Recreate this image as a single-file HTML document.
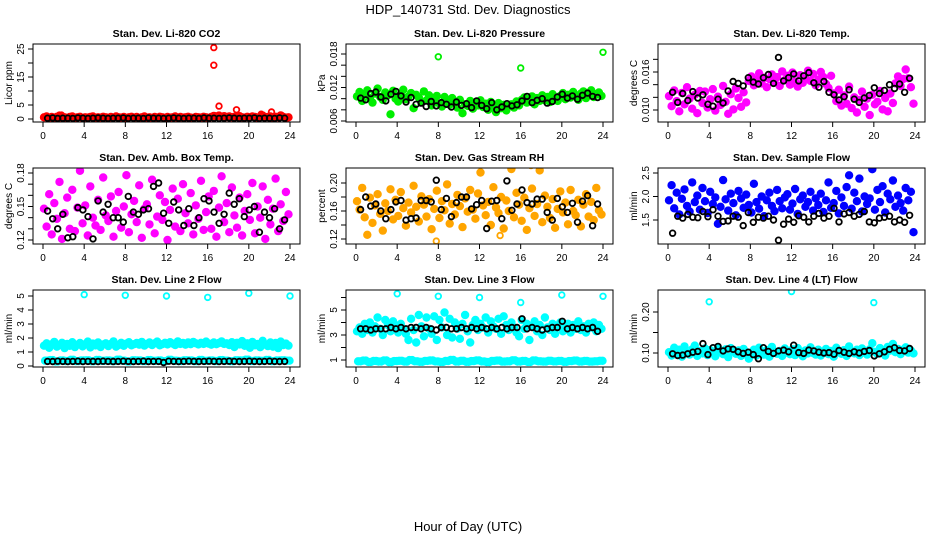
<!DOCTYPE html>
<html><head><meta charset="utf-8"><style>
html,body{margin:0;padding:0;background:#fff;width:936px;height:540px;overflow:hidden}
svg{display:block;font-family:"Liberation Sans",sans-serif}
</style></head><body>
<svg id="chart" width="936" height="540" viewBox="0 0 936 540" xmlns="http://www.w3.org/2000/svg">
<text x="468" y="14" text-anchor="middle" font-size="13">HDP_140731  Std. Dev. Diagnostics</text>
<text x="468" y="531" text-anchor="middle" font-size="13">Hour of Day (UTC)</text>
</svg>
<script>
// ---------- data ----------
const xTicks=[0,4,8,12,16,20,24];
const co2Vals=[0.6,0.9,0.4,0.7,0.5,0.8,1.2,0.5,0.6,0.4,0.7,0.9,0.5,0.6,0.8,0.4,0.6,0.5,0.7,0.9,0.4,0.6,0.5,0.8,0.6,0.4,0.7,0.5,0.9,0.6,0.5,0.7,0.4,0.6,0.8,0.5,0.7,0.4,0.6,0.9,0.5,0.6,0.4,0.7,0.5,0.8,0.6,0.4,0.7,0.5,0.6,0.9,0.4,0.7,0.5,0.6,0.8,0.5,0.4,0.7,0.6,0.5,0.8,0.6,0.4,0.7,1.1,0.9,1.2,0.8,1.0,0.7,0.9,0.6,0.8,0.7,1.0,0.6,0.5,0.8,0.6,0.9,0.7,0.5,0.8,1.2,0.6,0.7,0.9,0.5,0.8,0.6,1.3,0.7,0.5,0.6];
const co2OutX=[16.6,16.6,17.1,18.8,21.2,22.2,1.8,23.2];
const co2OutY=[25.5,19.2,4.6,3.3,1.7,2.5,1.4,1.2];
const co2Black=[0.3,0.4,0.2,0.3,0.3,0.2,0.4,0.3,0.2,0.3,0.4,0.3,0.2,0.3,0.3,0.4,0.2,0.3,0.3,0.2,0.4,0.3,0.3,0.2,0.3,0.4,0.3,0.2,0.3,0.3,0.2,0.4,0.3,0.3,0.2,0.3,0.4,0.3,0.2,0.3,0.3,0.4,0.2,0.3,0.3,0.2,0.4,0.3];

const presVals=[10.4,11.2,9.6,10.8,11.5,10.1,9.3,10.9,11.8,10.3,9.8,11.1,10.6,7.2,11.4,10.0,9.5,10.8,11.6,9.9,10.4,11.0,8.3,10.7,10.2,9.4,11.3,9.7,10.6,8.8,9.9,10.5,9.1,8.6,10.3,9.5,8.9,10.1,9.2,8.4,9.8,7.4,9.0,8.7,9.6,8.2,9.3,8.8,9.7,8.5,9.1,8.0,9.4,8.6,7.6,9.2,8.3,8.9,7.9,8.7,9.0,8.4,9.5,8.8,9.8,10.2,9.3,9.9,10.4,9.0,10.1,9.6,10.6,9.7,10.3,9.4,10.8,10.0,9.6,10.5,11.0,9.9,10.7,10.2,11.2,10.4,9.8,10.9,11.3,10.1,10.6,11.5,10.3,10.8,11.1,10.5];
const presOutX=[8,16,24];
const presOutY=[17.5,15.5,18.3];
const presBlack=[10.1,9.8,10.9,11.2,10.3,9.6,10.8,11.3,10.5,9.4,10.2,9.0,9.2,8.6,9.5,8.7,9.3,9.0,8.5,9.4,8.8,9.1,8.4,9.6,8.8,8.2,9.3,8.0,8.5,9.1,8.7,8.9,9.6,10.4,9.3,9.7,10.0,9.2,9.5,10.3,10.8,10.1,10.5,9.9,10.6,11.0,10.4,10.2];

const tempVals=[12.2,10.6,13.1,11.4,9.8,12.7,10.9,13.6,11.8,10.2,12.4,9.5,13.0,11.1,12.9,10.4,11.7,13.3,9.9,12.1,10.8,13.8,11.3,9.4,12.5,10.1,13.4,11.9,10.5,12.8,11.2,14.6,15.3,13.9,14.8,15.8,14.2,15.1,13.6,14.9,15.6,14.4,15.2,13.8,16.1,14.7,15.4,14.0,15.9,14.5,13.7,15.5,14.3,15.0,16.2,14.6,15.7,13.9,14.8,16.0,15.2,14.1,13.5,15.4,12.6,11.4,13.2,10.7,12.3,11.0,13.7,10.3,12.0,9.6,11.6,12.9,10.5,11.8,9.2,12.4,10.9,11.3,13.0,10.1,11.9,9.8,12.6,11.1,14.2,15.3,13.8,14.9,16.4,15.0,13.6,11.0];
const tempOutX=[];
const tempOutY=[];
const tempBlack=[12.8,11.2,12.6,11.5,12.9,11.9,12.4,10.9,10.6,11.7,11.1,13.0,14.5,14.2,13.8,15.1,14.4,14.1,15.1,15.6,14.2,18.3,14.6,15.1,15.7,14.6,15.4,15.9,14.3,13.6,14.5,12.8,12.4,11.6,12.1,13.2,11.7,11.2,11.9,12.3,13.5,12.6,13.1,14.0,13.4,14.1,12.8,15.0];

const ambVals=[14.8,13.2,16.1,12.5,15.3,13.9,17.2,12.1,14.4,15.8,13.0,16.5,12.8,14.9,18.2,13.5,15.1,12.4,16.8,14.0,13.3,15.6,12.9,17.6,14.2,13.7,15.9,12.3,14.6,16.3,13.1,15.0,17.8,12.7,14.3,15.5,13.6,16.9,12.2,14.8,15.2,13.4,17.4,12.6,14.1,16.0,13.8,15.4,12.0,14.7,16.6,13.2,15.7,12.8,17.0,14.4,13.5,16.2,12.5,15.1,13.9,17.3,12.9,14.5,15.9,13.0,16.4,12.3,14.9,17.7,13.6,15.3,12.7,16.7,14.2,13.1,15.8,12.4,14.6,16.1,13.8,17.1,12.6,15.0,14.0,16.8,12.1,15.6,13.4,14.8,17.5,12.8,15.2,13.7,16.3,14.3];
const ambOutX=[];
const ambOutY=[];
const ambBlack=[14.6,13.9,13.0,14.3,12.2,12.3,14.9,14.7,14.1,12.1,15.5,14.5,15.2,14.0,14.0,13.6,15.9,14.5,14.3,14.7,14.8,16.8,17.1,14.4,13.5,15.4,14.7,13.3,14.8,13.3,14.0,15.7,15.5,14.5,13.5,14.3,16.2,15.2,15.7,14.1,14.7,15.0,12.7,14.5,14.0,14.8,13.0,13.8];

const rhVals=[17.4,16.2,19.3,15.1,12.6,17.9,14.3,16.8,18.4,15.6,13.2,17.1,16.0,19.1,14.8,17.6,15.3,18.7,16.4,13.9,17.2,15.8,19.6,16.6,14.5,18.1,16.9,15.2,17.7,13.4,16.3,18.9,15.0,17.4,16.1,19.8,14.2,17.0,15.5,18.3,16.7,13.7,17.8,15.9,19.0,16.2,14.9,18.5,21.5,16.8,15.4,17.3,14.0,19.4,16.5,15.7,18.0,13.5,17.5,16.0,22.0,15.1,18.6,16.9,14.6,17.9,13.3,16.4,19.2,15.3,17.0,21.8,14.4,18.2,16.6,15.0,17.7,13.6,16.3,18.8,15.8,17.2,14.1,19.0,16.0,15.4,17.6,13.8,16.9,18.4,15.2,17.3,14.7,19.3,16.1,15.5];
const rhOutX=[7.8,14.0,17.0];
const rhOutY=[11.7,12.5,22.5];
const rhBlack=[16.2,18.0,16.7,17.0,16.0,14.9,16.2,17.3,17.5,14.7,14.9,15.0,17.5,17.5,17.3,20.4,16.2,17.8,15.2,17.2,18.0,18.0,16.3,16.9,17.5,13.5,17.4,17.5,14.9,20.3,16.1,17.0,19.0,17.2,17.0,17.7,17.7,15.8,14.7,17.8,16.6,15.8,17.1,14.4,17.4,18.2,13.9,17.0];

const flowVals=[1.92,2.24,1.75,2.08,1.62,1.95,2.15,1.80,1.68,2.30,1.88,2.02,1.72,2.18,1.90,1.65,2.10,1.84,1.98,1.42,1.78,2.35,1.94,1.70,2.06,1.86,1.60,2.12,1.96,1.76,2.04,1.82,1.66,2.27,1.88,1.74,2.00,1.58,1.92,2.08,1.80,1.69,2.14,1.90,1.75,1.98,2.05,1.72,1.85,2.16,1.63,1.94,2.02,1.78,1.88,2.10,1.70,1.96,1.82,2.06,1.67,1.92,2.30,1.76,1.86,2.12,1.64,1.98,1.80,2.20,2.45,1.74,2.08,1.90,2.38,1.68,2.00,1.84,1.96,2.58,1.72,2.14,1.88,2.22,1.66,2.06,1.94,2.34,1.78,2.02,1.86,1.70,2.18,1.92,2.10,1.24];
const flowOutX=[];
const flowOutY=[];
const flowBlack=[1.22,1.58,1.54,1.62,1.56,1.55,1.68,1.57,1.72,1.58,1.47,1.48,1.58,1.56,1.38,1.66,1.45,1.56,1.54,1.58,1.50,1.07,1.41,1.52,1.45,1.59,1.56,1.46,1.58,1.64,1.54,1.58,1.75,1.46,1.63,1.66,1.58,1.62,1.68,1.46,1.44,1.54,1.56,1.58,1.46,1.50,1.45,1.60];

const l2Vals=[1.45,1.62,1.30,1.55,1.72,1.38,1.50,1.66,1.28,1.58,1.44,1.70,1.35,1.52,1.64,1.40,1.56,1.74,1.33,1.60,1.47,1.68,1.36,1.54,1.62,1.42,1.58,1.76,1.38,1.50,1.66,1.44,1.60,1.70,1.48,1.56,1.64,1.52,1.72,1.46,1.58,1.68,1.50,1.62,1.74,1.48,1.56,1.66,1.54,1.70,1.60,1.50,1.76,1.58,1.64,1.52,1.68,1.56,1.72,1.62,1.54,1.66,1.58,1.74,1.60,1.52,1.68,1.56,1.64,1.76,1.58,1.62,1.50,1.70,1.36,1.66,1.54,1.78,1.44,1.62,1.30,1.72,1.48,1.58,1.34,1.80,1.52,1.42,1.68,1.38,1.64,1.28,1.74,1.50,1.60,1.46];
const l2Low=[0.38,0.42,0.33,0.40,0.36,0.44,0.35,0.39,0.41,0.34,0.43,0.37,0.40,0.36,0.45,0.38,0.33,0.41,0.39,0.35,0.42,0.37,0.40,0.34,0.44,0.38,0.36,0.41,0.39,0.35,0.43,0.37,0.40,0.36,0.42,0.38,0.34,0.41,0.39,0.45,0.36,0.40,0.37,0.43,0.35,0.39,0.41,0.38];
const l2OutX=[4,8,12,16,20,24];
const l2OutY=[5.1,5.05,5.0,4.9,5.2,5.0];
const l2Black=[0.33,0.32,0.34,0.33,0.32,0.33,0.34,0.32,0.33,0.33,0.32,0.34,0.33,0.32,0.33,0.34,0.33,0.32,0.33,0.34,0.32,0.33,0.33,0.25,0.34,0.33,0.32,0.33,0.34,0.33,0.32,0.33,0.34,0.33,0.32,0.33,0.34,0.33,0.32,0.33,0.34,0.33,0.32,0.33,0.34,0.33,0.32,0.33];

const l3Vals=[3.3,3.6,3.1,3.9,3.4,4.0,3.2,3.7,4.4,3.5,3.0,4.2,3.8,3.3,4.1,3.6,3.2,3.9,3.5,3.1,2.6,4.3,3.4,2.4,4.6,3.7,2.9,4.4,3.5,3.1,4.5,2.6,4.2,3.6,4.8,3.0,4.3,2.8,4.0,3.5,2.7,3.9,4.6,3.3,2.4,3.8,4.2,3.4,3.9,3.6,4.4,3.2,4.1,3.7,3.5,4.3,3.1,4.5,3.8,3.4,4.0,3.6,3.2,2.9,4.2,3.5,3.9,2.6,3.7,4.1,3.3,3.8,3.0,4.4,3.6,3.4,3.9,3.1,3.7,4.0,3.3,3.6,3.9,3.2,3.8,3.5,4.1,3.4,3.7,3.2,3.9,3.6,4.0,3.3,3.8,3.5];
const l3Low=[0.90,0.95,0.85,0.92,0.88,0.97,0.84,0.91,0.94,0.87,0.99,0.90,0.86,0.93,0.96,0.89,0.85,0.92,1.00,0.88,0.94,0.86,0.91,0.97,0.89,0.84,0.93,0.95,0.87,0.90,0.98,0.88,0.92,0.85,0.96,0.90,0.87,0.94,0.89,0.93,0.86,0.91,0.95,0.88,0.92,0.87,0.90,0.94];
const l3OutX=[4,8,12,16,20,24];
const l3OutY=[6.3,6.1,6.0,5.6,6.2,6.1];
const l3Black=[3.5,3.5,3.4,3.5,3.5,3.5,3.6,3.5,3.6,3.5,3.6,3.6,3.5,3.6,3.5,3.4,3.6,3.6,3.5,3.5,3.6,3.5,3.6,3.5,3.6,3.5,3.6,3.5,3.6,3.5,3.6,3.6,4.3,3.5,3.6,3.5,3.4,3.5,3.6,3.6,4.1,3.5,3.6,3.5,3.6,3.5,3.6,3.3];

const l4Vals=[10.2,9.4,11.3,9.8,10.8,9.1,11.6,10.0,9.6,10.9,11.8,9.3,10.5,9.9,11.1,9.5,10.7,10.1,9.2,11.4,10.3,9.7,10.9,9.0,11.2,10.4,9.8,10.6,9.3,11.0,10.2,8.6,9.9,10.8,9.4,11.3,10.0,9.6,10.7,9.1,11.5,10.3,9.8,10.5,9.3,11.1,10.1,9.7,10.9,9.5,11.2,10.4,9.2,10.6,9.9,11.4,10.0,9.6,10.8,9.4,10.3,11.0,9.7,10.5,9.1,11.3,10.2,9.8,10.7,9.3,11.6,10.4,9.9,10.8,9.5,11.1,10.1,9.6,10.9,12.4,10.3,9.8,11.2,10.0,9.4,11.5,10.6,12.2,10.2,11.0,9.7,10.8,11.4,10.1,10.6,9.9];
const l4OutX=[4,12,20];
const l4OutY=[22.5,25.0,22.3];
const l4Black=[9.8,9.4,9.5,9.8,10.2,10.4,12.3,9.6,11.3,11.6,10.5,11.0,10.9,10.3,9.9,10.2,9.6,8.6,11.3,10.4,9.9,10.5,10.7,10.3,11.9,10.1,9.9,10.7,10.5,10.2,10.0,10.1,9.7,10.6,10.2,9.9,10.3,10.0,10.4,10.6,9.3,9.8,10.3,10.9,11.3,10.6,10.5,11.1];

const co2Ticks=[0,5,10,15,20,25], co2Labels=['0','5','','15','','25'];
const presTicks=[6,8,10,12,14,16,18], presLabels=['0.006','','','0.012','','','0.018'];
const tempTicks=[10,12,14,16,18], tempLabels=['0.010','','','0.016',''];
const ambTicks=[12,13,14,15,16,17,18], ambLabels=['0.12','','','0.15','','','0.18'];
const rhTicks=[12,14,16,18,20], rhLabels=['0.12','','0.16','','0.20'];
const flowTicks=[1.5,2.0,2.5], flowLabels=['1.5','2.0','2.5'];
const l2Ticks=[0,1,2,3,4,5], l2Labels=['0','1','2','3','4','5'];
const l3Ticks=[1,2,3,4,5,6], l3Labels=['1','','3','','5',''];
const l4Ticks=[10,15,20], l4Labels=['0.10','','0.20'];

// ---------- layout ----------
const NS='http://www.w3.org/2000/svg';
const svg=document.getElementById('chart');
const colX0=[43,356,668], colW=247;
const rowTop=[44,168,290], rowBot=[122,244,367];
function mk(tag,attrs,parent){const e=document.createElementNS(NS,tag);for(const k in attrs)e.setAttribute(k,attrs[k]);(parent||svg).appendChild(e);return e;}

const panels=[
 {name:'co2',title:'Stan. Dev. Li-820 CO2',ylab:'Licor ppm',col:'#ff0000',r:0,c:0,v1:0,p1:119,v2:25,p2:49,vals:co2Vals,low:null,ox:co2OutX,oy:co2OutY,blk:co2Black,ticks:co2Ticks,labels:co2Labels},
 {name:'pressure',title:'Stan. Dev. Li-820 Pressure',ylab:'kPa',col:'#00ee00',r:0,c:1,v1:6,p1:121,v2:18,p2:54,vals:presVals,low:null,ox:presOutX,oy:presOutY,blk:presBlack,ticks:presTicks,labels:presLabels},
 {name:'temp',title:'Stan. Dev. Li-820 Temp.',ylab:'degrees C',col:'#ff00ff',r:0,c:2,v1:10,p1:110,v2:16,p2:72,vals:tempVals,low:null,ox:tempOutX,oy:tempOutY,blk:tempBlack,ticks:tempTicks,labels:tempLabels},
 {name:'amb-temp',title:'Stan. Dev. Amb. Box Temp.',ylab:'degrees C',col:'#ff00ff',r:1,c:0,v1:12,p1:240,v2:18,p2:173,vals:ambVals,low:null,ox:ambOutX,oy:ambOutY,blk:ambBlack,ticks:ambTicks,labels:ambLabels},
 {name:'rh',title:'Stan. Dev. Gas Stream RH',ylab:'percent',col:'#ffa500',r:1,c:1,v1:12,p1:239,v2:20,p2:183,vals:rhVals,low:null,ox:rhOutX,oy:rhOutY,blk:rhBlack,ticks:rhTicks,labels:rhLabels},
 {name:'sample-flow',title:'Stan. Dev. Sample Flow',ylab:'ml/min',col:'#0000ff',r:1,c:2,v1:1.5,p1:220,v2:2.5,p2:173,vals:flowVals,low:null,ox:flowOutX,oy:flowOutY,blk:flowBlack,ticks:flowTicks,labels:flowLabels},
 {name:'line2',title:'Stan. Dev. Line 2 Flow',ylab:'ml/min',col:'#00ffff',r:2,c:0,v1:0,p1:366,v2:5,p2:296,vals:l2Vals,low:l2Low,ox:l2OutX,oy:l2OutY,blk:l2Black,ticks:l2Ticks,labels:l2Labels},
 {name:'line3',title:'Stan. Dev. Line 3 Flow',ylab:'ml/min',col:'#00ffff',r:2,c:1,v1:1,p1:360,v2:5,p2:310,vals:l3Vals,low:l3Low,ox:l3OutX,oy:l3OutY,blk:l3Black,ticks:l3Ticks,labels:l3Labels},
 {name:'line4',title:'Stan. Dev. Line 4 (LT) Flow',ylab:'ml/min',col:'#00ffff',r:2,c:2,v1:10,p1:353,v2:20,p2:312,vals:l4Vals,low:null,ox:l4OutX,oy:l4OutY,blk:l4Black,ticks:l4Ticks,labels:l4Labels}
];

panels.forEach(P=>{
  const x0=colX0[P.c], top=rowTop[P.r], bot=rowBot[P.r];
  const left=x0-10, right=x0+colW+10;
  const xs=h=>x0+h/24*colW;
  const ys=v=>P.p1+(v-P.v1)*(P.p2-P.p1)/(P.v2-P.v1);
  const g=mk('g',{});
  
  
  const cp=mk('clipPath',{id:'cp-'+P.name},g);
  mk('rect',{x:left,y:top,width:right-left,height:bot-top},cp);
  const t=mk('text',{x:(left+right)/2,y:top-7,'text-anchor':'middle','font-size':'10.5','font-weight':'bold'},g);
  t.textContent=P.title;
  
  
  const pts=mk('g',{'clip-path':'url(#cp-'+P.name+')','stroke-width':'1.8'},g);
  
  
  const dot=(h,v,col,fill,r,nm)=>{const c=mk('circle',{cx:xs(h).toFixed(1),cy:ys(v).toFixed(1),r:r,stroke:col,fill:fill},pts);
    
    };
  P.vals.forEach((v,i)=>dot(i*0.25+0.1,v,P.col,P.col,3.3,'point'));
  if(P.low){P.low.forEach((v,i)=>dot(i*0.5+0.2,v,P.col,P.col,3.3,'point-low'));
    P.low.forEach((v,i)=>dot(i*0.5+0.45,v,P.col,P.col,3.3,'point-low'));}
  P.ox.forEach((h,i)=>dot(h,P.oy[i],P.col,'none',2.8,'outlier-point'));
  P.blk.forEach((v,i)=>dot(i*0.49+0.45,v,'#000','none',2.8,'black-point'));
  const box=mk('rect',{x:left,y:top,width:right-left,height:bot-top,fill:'none',stroke:'#000','stroke-width':'1'},g);
  
  
  const xa=mk('g',{stroke:'#000','stroke-width':'1'},g);
  
  
  mk('line',{x1:xs(xTicks[0]),x2:xs(xTicks[xTicks.length-1]),y1:bot,y2:bot},xa);
  xTicks.forEach(h=>{mk('line',{x1:xs(h),x2:xs(h),y1:bot,y2:bot+5},xa);
    const tx=mk('text',{x:xs(h),y:bot+17,'text-anchor':'middle','font-size':'10',stroke:'none',fill:'#000'},xa);tx.textContent=h;
    
    });
  const ya=mk('g',{stroke:'#000','stroke-width':'1'},g);
  
  
  mk('line',{x1:left,x2:left,y1:ys(P.ticks[0]),y2:ys(P.ticks[P.ticks.length-1])},ya);
  P.ticks.forEach((v,i)=>{const y=ys(v);mk('line',{x1:left-5,x2:left,y1:y,y2:y},ya);
    if(P.labels[i]){const tl=mk('text',{x:left-9,y:y,'text-anchor':'middle','font-size':'10',stroke:'none',fill:'#000',transform:'rotate(-90 '+(left-9)+' '+y+')'},ya);tl.textContent=P.labels[i];
      
      }});
  const yt=mk('text',{x:left-21,y:(top+bot)/2,'text-anchor':'middle','font-size':'10',transform:'rotate(-90 '+(left-21)+' '+((top+bot)/2)+')'},g);
  yt.textContent=P.ylab;
  
  
});
</script>
</body></html>
